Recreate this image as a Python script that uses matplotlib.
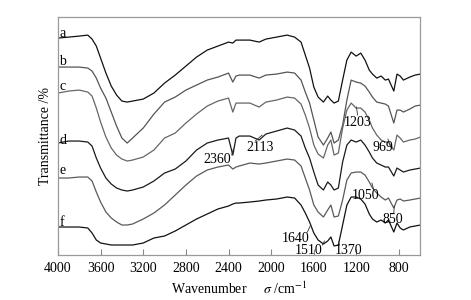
import numpy as np
import matplotlib
matplotlib.use("Agg")
import matplotlib.pyplot as plt

plt.rcParams['font.family'] = ['Liberation Serif', 'DejaVu Serif']
plt.rcParams['mathtext.fontset'] = 'stix'

# wavenumbers (cm-1) shared by all spectra
wn = [4000, 3900, 3800, 3720, 3680, 3640, 3600, 3550, 3500, 3450, 3400, 3350,
      3300, 3200, 3100, 3000, 2900, 2800, 2700, 2600, 2500, 2400, 2360, 2330,
      2300, 2200, 2113, 2050, 1950, 1850, 1780, 1720, 1680, 1640, 1600, 1560,
      1510, 1470, 1440, 1410, 1370, 1330, 1290, 1250, 1203, 1160, 1120, 1080,
      1050, 1010, 969, 930, 900, 850, 820, 790, 760, 700, 650, 600]

# transmittance (arbitrary offset units)
a = [217, 218, 219, 220, 216, 209, 197, 182, 169, 160, 154, 153,
     154, 156, 162, 172, 180, 189, 198, 205, 209, 213, 212, 215,
     215, 215, 213, 216, 218, 220, 218, 213, 200, 187, 168, 158,
     153, 159, 155, 152, 154, 175, 195, 203, 199, 202, 195, 185,
     181, 177, 179, 175, 176, 164, 181, 179, 175, 178, 180, 181]
b = [188, 188, 188, 187, 184, 177, 167, 157, 143, 129, 117, 112,
     117, 127, 141, 153, 158, 165, 170, 175, 178, 182, 173, 179,
     180, 180, 177, 180, 181, 183, 182, 175, 163, 152, 135, 118,
     110, 117, 123, 112, 115, 130, 155, 175, 173, 172, 169, 163,
     158, 153, 152, 151, 149, 132, 145, 145, 143, 146, 149, 150]
c = [162, 164, 165, 163, 159, 147, 133, 118, 107, 100, 96, 94,
     95, 98, 105, 117, 122, 132, 141, 149, 154, 157, 143, 152,
     152, 152, 148, 153, 155, 158, 157, 151, 140, 127, 110, 101,
     97, 110, 115, 100, 102, 127, 145, 152, 147, 147, 143, 135,
     127, 120, 115, 113, 113, 105, 120, 117, 113, 115, 116, 118]
d = [112, 114, 114, 113, 109, 97, 87, 77, 71, 67, 65, 64,
     65, 68, 74, 82, 86, 94, 105, 112, 115, 117, 100, 117,
     119, 119, 115, 121, 124, 127, 125, 119, 107, 97, 83, 70,
     65, 73, 70, 65, 67, 93, 110, 115, 113, 115, 110, 103,
     97, 92, 90, 88, 88, 79, 87, 85, 83, 85, 86, 87]
e = [77, 77, 78, 78, 74, 63, 53, 43, 37, 33, 30, 30,
     31, 36, 42, 50, 60, 70, 79, 85, 88, 90, 86, 88,
     89, 92, 91, 92, 94, 96, 95, 89, 77, 65, 50, 43,
     38, 45, 50, 38, 39, 55, 75, 82, 83, 83, 80, 73,
     67, 62, 58, 55, 57, 47, 55, 56, 54, 55, 56, 57]
f = [28, 28, 28, 27, 22, 15, 12, 11, 10, 10, 10, 10,
     10, 12, 17, 19, 24, 30, 36, 41, 46, 49, 51, 52,
     52, 53, 54, 55, 56, 58, 57, 50, 42, 33, 22, 15,
     11, 14, 18, 9, 10, 30, 50, 58, 58, 56, 51, 41,
     36, 33, 35, 32, 35, 23, 32, 27, 25, 28, 29, 30]

series = [a, b, c, d, e, f]
names = ['a', 'b', 'c', 'd', 'e', 'f']
colors = ['#111111', '#555555', '#666666', '#1a1a1a', '#5a5a5a', '#111111']
name_y = [222, 194, 169, 115, 85, 33]

# peak labels: text, text position, leader start, leader end
peaks = ['2360', '2113', '1203', '969', '1050', '850', '1640', '1510', '1370']
peak_txt = [(2508, 96), (2104, 108), (1185, 133), (950, 108), (1119, 60),
            (856, 36), (1767, 17), (1645, 5), (1270, 5)]
peak_from = [(2370, 100), (2150, 114), (1190, 140), (880, 108), (1040, 66),
             (850, 42), (1660, 23), (1520, 10), (1360, 10)]
peak_to = [(2355, 106), (2085, 120), (1200, 148), (905, 116), (1055, 72),
           (845, 49), (1630, 30), (1500, 14), (1368, 13)]

fig = plt.figure(figsize=(4.71, 3.0), dpi=100)
ax = fig.add_axes([0.123, 0.15, 0.769, 0.793])

for s, col in zip(series, colors):
    ax.plot(wn, s, color=col, lw=0.9)

for n, y in zip(names, name_y):
    ax.text(3985, y, n, fontsize=10, ha='left', va='center')

for t, p, p0, p1 in zip(peaks, peak_txt, peak_from, peak_to):
    ax.text(p[0], p[1], t, fontsize=10, ha='center', va='center')
    ax.plot([p0[0], p1[0]], [p0[1], p1[1]], color='#333333', lw=0.6)

ax.set_xlim(4000, 603)
ax.set_ylim(0, 238)
ax.set_xticks([4000, 3600, 3200, 2800, 2400, 2000, 1600, 1200, 800])
ax.set_yticks([])
ax.tick_params(axis='x', direction='in', length=4, width=0.8, color='#888888',
               labelsize=10, pad=5)
for sp in ax.spines.values():
    sp.set_color('#999999')
    sp.set_linewidth(0.9)

ax.set_xlabel(r'Wavenumber     $\sigma$ /cm$^{-1}$', fontsize=10, labelpad=4)
ax.set_ylabel('Transmittance /%', fontsize=10, labelpad=4)

fig.savefig('out.png', dpi=100)
